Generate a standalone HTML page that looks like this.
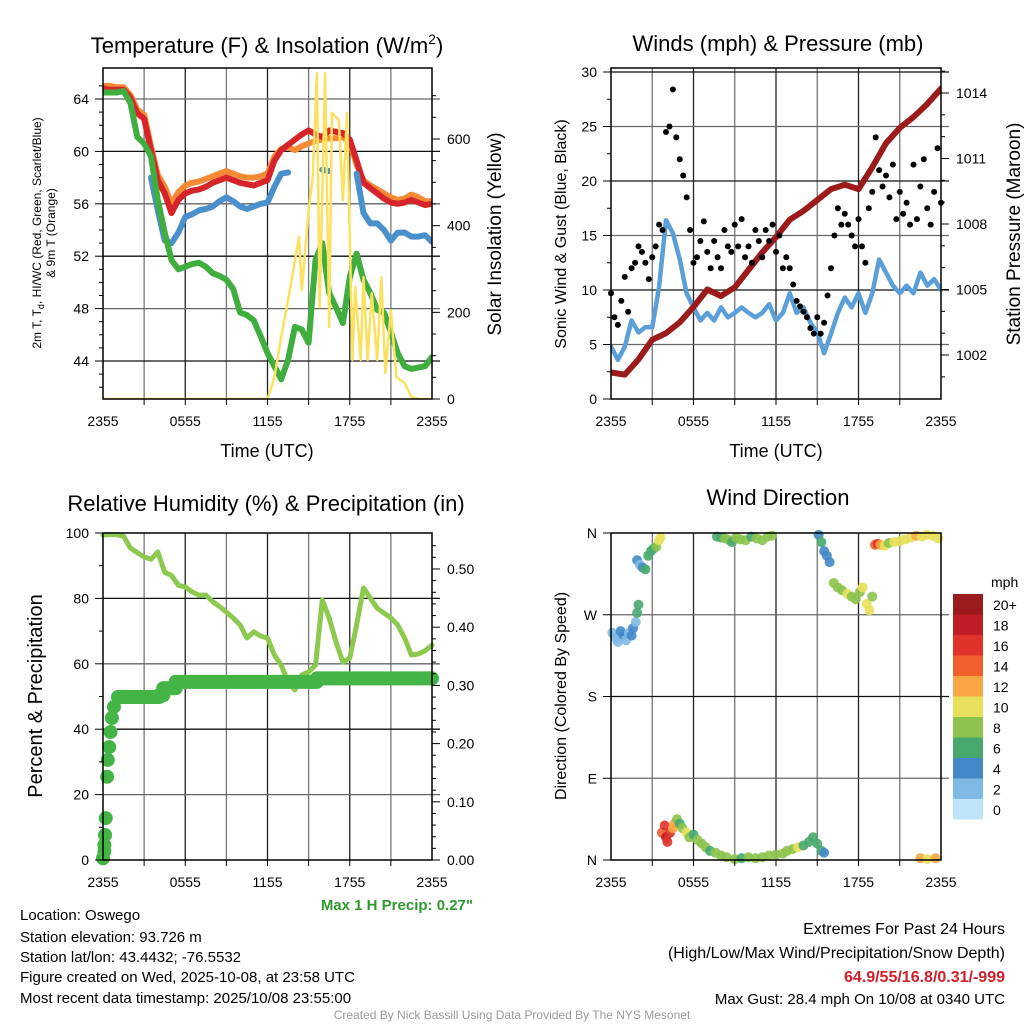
<!DOCTYPE html>
<html><head><meta charset="utf-8"><style>
html,body{margin:0;padding:0;background:#fff;}
svg{display:block;font-family:"Liberation Sans",Arial,sans-serif;}
</style></head><body>
<svg id="fig" width="1024" height="1024" viewBox="0 0 1024 1024">
<defs>
<clipPath id="c1"><rect x="103" y="68" width="329" height="331"/></clipPath>
<clipPath id="c2"><rect x="611" y="68" width="330" height="331"/></clipPath>
</defs>
<g id="grid"></g>
<g id="marks"></g>
<g id="axes"></g>
<text x="267" y="53" font-size="22" text-anchor="middle">Temperature (F) &amp; Insolation (W/m<tspan font-size="14" dy="-9">2</tspan><tspan dy="9">)</tspan></text>
<text x="778" y="51" font-size="22" text-anchor="middle">Winds (mph) &amp; Pressure (mb)</text>
<text x="266" y="511" font-size="22" text-anchor="middle">Relative Humidity (%) &amp; Precipitation (in)</text>
<text x="778" y="505" font-size="22" text-anchor="middle">Wind Direction</text>
<text x="267" y="457" font-size="18" text-anchor="middle">Time (UTC)</text>
<text x="776" y="457" font-size="18" text-anchor="middle">Time (UTC)</text>
<text transform="translate(41,233) rotate(-90)" font-size="12" text-anchor="middle">2m T, T<tspan font-size="9" dy="3">d</tspan><tspan dy="-3">, HI/WC (Red, Green, Scarlet/Blue)</tspan></text>
<text transform="translate(55,233) rotate(-90)" font-size="12" text-anchor="middle">&amp; 9m T (Orange)</text>
<text transform="translate(501,234) rotate(-90)" font-size="19" text-anchor="middle">Solar Insolation (Yellow)</text>
<text transform="translate(566,234) rotate(-90)" font-size="16" text-anchor="middle">Sonic Wind &amp; Gust (Blue, Black)</text>
<text transform="translate(1020,234) rotate(-90)" font-size="19" text-anchor="middle">Station Pressure (Maroon)</text>
<text transform="translate(42,696) rotate(-90)" font-size="20" text-anchor="middle">Percent &amp; Precipitation</text>
<text transform="translate(566,696) rotate(-90)" font-size="16" text-anchor="middle">Direction (Colored By Speed)</text>
<text x="473" y="910" font-size="15" font-weight="bold" fill="#2e9a2e" text-anchor="end">Max 1 H Precip: 0.27"</text>
<g font-size="15">
<text x="20" y="920">Location: Oswego</text>
<text x="20" y="942">Station elevation: 93.726 m</text>
<text x="20" y="962">Station lat/lon: 43.4432; -76.5532</text>
<text x="20" y="982">Figure created on Wed, 2025-10-08, at 23:58 UTC</text>
<text x="20" y="1003">Most recent data timestamp: 2025/10/08 23:55:00</text>
</g>
<g font-size="16" text-anchor="end">
<text x="1005" y="934">Extremes For Past 24 Hours</text>
<text x="1005" y="958">(High/Low/Max Wind/Precipitation/Snow Depth)</text>
<text x="1005" y="982" fill="#d0202a" font-weight="bold">64.9/55/16.8/0.31/-999</text>
<text x="1005" y="1004" font-size="15">Max Gust: 28.4 mph On 10/08 at 0340 UTC</text>
</g>
<text x="512" y="1019" font-size="12" fill="#999" text-anchor="middle">Created By Nick Bassill Using Data Provided By The NYS Mesonet</text>
<g id="cbar"></g>
</svg>
<script>
// ---------- data ----------
const tempRed = [64.8,64.7,64.7,64.7,64.1,62.9,62.5,60.1,57.8,56.8,55.3,56.3,56.8,57.0,57.1,57.3,57.6,57.8,58.0,57.8,57.6,57.5,57.4,57.6,57.8,59.3,60.1,60.5,60.9,61.3,61.6,61.3,61.1,61.6,61.5,61.4,60.9,59.3,57.6,57.2,56.8,56.4,56.1,56.0,56.1,56.3,56.1,55.9,56.0];
const tempOrange = [65.0,65.0,64.9,64.9,64.3,63.2,62.8,60.4,58.2,57.3,56.0,56.9,57.4,57.6,57.7,57.9,58.1,58.3,58.5,58.3,58.1,58.0,58.0,58.1,58.3,59.6,60.2,60.3,60.1,60.4,60.6,60.8,60.9,61.0,61.0,61.1,60.7,59.0,57.8,57.4,57.1,56.8,56.5,56.3,56.4,56.7,56.5,56.2,56.2];
const tempBlue = [null,null,null,null,null,null,null,58.0,55.5,53.2,53.0,53.8,55.0,55.2,55.5,55.6,55.8,56.2,56.5,56.2,55.8,55.6,55.8,56.0,56.1,57.3,58.3,58.4,null,null,null,null,58.6,58.5,null,null,null,58.3,55.3,54.5,54.5,54.0,53.2,53.8,53.8,53.5,53.5,53.6,53.1];
const tempGreen = [64.5,64.5,64.5,64.6,63.7,61.1,60.6,59.6,56.3,53.8,51.7,51.0,51.2,51.4,51.5,51.2,50.7,50.5,50.2,49.5,47.7,47.5,47.1,45.9,44.6,43.6,42.6,44.1,46.6,46.4,45.4,51.7,53.0,49.2,48.1,46.9,50.4,52.2,50.2,49.2,47.9,47.7,46.2,44.6,43.6,43.4,43.5,43.6,44.3];
const solarHours = [0,12,12.5,13,13.5,14,14.3,14.5,15,15.3,15.6,15.8,16.2,16.5,16.7,17.2,17.5,17.8,18.2,18.4,18.8,19,19.3,19.6,20,20.3,20.6,21,21.4,22,22.5,23,24];
const solarVals = [0,0,50,143,228,320,374,251,436,512,752,212,752,166,660,644,459,660,90,258,90,281,90,244,90,281,60,205,50,37,5,0,0];
const pressure = [1001.2,1001.1,1001.8,1002.7,1003.0,1003.5,1004.2,1005.0,1004.7,1005.1,1005.9,1006.7,1007.4,1008.2,1008.6,1009.1,1009.6,1009.8,1009.6,1010.6,1011.7,1012.4,1012.9,1013.5,1014.2];
const windSpeed = [4.8,3.6,4.8,7.2,6.1,6.6,6.6,10.3,16.4,15.2,12.8,9.7,8.4,7.2,7.9,7.2,8.4,7.5,7.9,8.4,7.9,7.5,7.9,8.7,7.2,7.9,9.7,7.9,8.4,7.0,6.1,4.2,6.0,7.9,9.3,8.4,9.7,7.9,9.7,12.8,11.6,10.4,9.7,10.4,9.7,11.6,10.4,11.0,10.0];
const windGust = [9.7,7.5,6.8,9.0, 11.2,8.0,12.0,12.5, 14.0,13.5,12.5,11.0, 13.0,14.0,16.0,15.5, 24.5,25.0,28.4,24.0, 22.0,20.5,18.5,15.5, 12.5,13.0,14.5,16.3, 13.5,12.0,14.5,13.0, 12.0,15.5,14.0,13.5, 16.0,14.0,16.5,13.0, 14.0,12.5,15.5,14.5, 13.0,15.5,14.5,16.0, 13.5,15.0,12.0,13.0, 12.0,10.5,9.0,8.5, 8.0,7.5,6.5,6.0, 7.5,6.0,7.0,9.5, 12.0,15.0,17.5,16.0, 17.0,16.0,15.0,14.0, 16.5,14.0,12.5,17.5, 19.0,24.0,21.0,19.5, 20.5,18.5,21.5,16.5, 19.0,17.0,18.0,16.0, 21.5,16.5,19.5,22.0, 17.5,16.0,19.0,23.0, 18.0];
const rhVals = [99.4,99.5,99.5,99.0,95.4,94,92.7,92,94.2,88,87,84,83.5,82,81,81,79,77.5,75.8,74,71.9,67.9,69.8,68.5,67.9,62.7,59.6,54.4,52,56.6,57.5,59.6,79.5,74,66.7,60.5,61.8,71.9,83.2,80.1,77,75.5,74,71.9,67.9,62.7,63,64,65.7];
const precipHours = [0,0.1,0.1,0.15,0.2,0.3,0.35,0.45,0.55,0.65,0.8,1.1,4.1,4.4,5.3,15.2,15.6,24];
const precipTotals = [0.003,0.015,0.026,0.043,0.072,0.143,0.172,0.194,0.22,0.244,0.263,0.28,0.283,0.295,0.306,0.306,0.312,0.312];
const dirHours = [0.1,0.3,0.5,0.7,0.9,1.1,1.3,1.5,1.6,1.8,1.9,2.0, 1.9,2.1,2.3,2.5,2.7,2.9,3.1,3.3,3.5,3.6, 3.7,3.9,4.0,4.1,4.3,4.5,4.6,4.8,5.0,5.2,5.5,5.7,6.0,6.3,6.6,6.9,7.2,7.6,8.0,8.4, 7.7,8.0,8.3,8.6,8.8,9.1,9.4,9.8,10.2,10.6,11.0,11.4,11.7, 9.0,9.5,10,10.5,11,11.5,12,12.5,12.8,13.2,13.6,14,14.4,14.7,15,15.3,15.5, 15.1,15.3,15.5,15.7,15.9, 16.2,16.5,16.8,17.2,17.5,17.8,18.1,18.3,18.6,18.8,19.0, 19.2,19.4,19.6,19.9,20.2,20.6,21,21.4,21.8,22.2,22.6,23,23.4,23.8, 22.5,23,23.6];
const dirDeg = [250,245,240,252,248,242,250,247,255,262,272,281, 330,325,322,320,335,340,343,345,352,355, 30,38,25,20,30,35,40,45,40,35,30,25,28,22,18,14,10,8,5,3, 356,355,354,352,350,355,353,352,356,354,352,356,357, 1,2,3,2,3,5,6,7,10,12,14,16,20,25,18,10,8, 358,350,340,335,328, 305,300,297,293,290,287,295,300,282,275,290, 347,348,347,346,349,350,351,353,355,357,356,358,357,354, 2,1,2];
const dirSpeed = [3,3,3,4,5,3,3,5,4,3,6,7, 5,3,5,6,6,7,7,8,10,10, 14,16,18,16,16,12,12,8,6,8,10,8,6,8,8,8,6,8,8,8, 6,6,8,8,6,8,8,8,6,8,8,8,8, 8,6,8,8,8,8,8,8,8,8,10,6,6,6,6,6,4, 4,6,4,4,4, 8,8,8,10,8,8,8,10,10,10,8, 14,16,12,10,8,10,10,10,10,12,10,10,10,10, 12,10,12];
const cbarLabels = ["20+","18","16","14","12","10","8","6","4","2","0"];
const cbarColors = ["#9a1a1d","#bf1e26","#df3329","#f0602c","#f8a645","#e8e05a","#8cc34c","#47a86e","#4388c8","#80b9e4","#bfe3f7"];
const xTickLabels = ["2355","0555","1155","1755","2355"];

// ---------- helpers ----------
const NS="http://www.w3.org/2000/svg";
const G=document.getElementById('grid'),M=document.getElementById('marks'),A=document.getElementById('axes');
function el(tag,attrs,parent){const e=document.createElementNS(NS,tag);for(const k in attrs)e.setAttribute(k,attrs[k]);parent.appendChild(e);return e;}
function lin(d0,d1,r0,r1){return v=>r0+(v-d0)*(r1-r0)/(d1-d0);}
function speedColor(s){let i=Math.floor(s/2);if(i>10)i=10;return cbarColors[10-i];}

function frame(x0,x1,y0,y1,xs,prefix,yTicks,yScale,yFmt,yMinor,rTicks,rScale,rFmt,rMinor){
  for(let h=3;h<24;h+=3){const x=xs(h);
    const l=el('line',{x1:x,x2:x,y1:y0,y2:y1,stroke:h%6? '#777':'#222','stroke-width':1.3},G);
    
    const t=el('line',{x1:x,x2:x,y1:y1,y2:y1+6,stroke:'#000'},A);
    }
  xTickLabels.forEach((lab,i)=>{const x=xs(i*6);
    const t=el('text',{x:x,y:y1+27,'font-size':14,'text-anchor':'middle'},A);t.textContent=lab;
    });
  yTicks.forEach((v,i)=>{const y=yScale(v);
    if(y>y0+1&&y<y1-1){const l=el('line',{x1:x0,x2:x1+8,y1:y,y2:y,stroke:i%2?'#666':'#111','stroke-width':1.3},G);
    }
    const tk=el('line',{x1:x0-8,x2:x0,y1:y,y2:y,stroke:'#000'},A);
    
    const t=el('text',{x:x0-14,y:y+5,'font-size':14,'text-anchor':'end'},A);t.textContent=yFmt(v);
    });
  yMinor.forEach(v=>{const y=yScale(v);const tk=el('line',{x1:x0-4,x2:x0,y1:y,y2:y,stroke:'#000'},A);
    });
  if(rTicks){rTicks.forEach(v=>{const y=rScale(v);
    const tk=el('line',{x1:x1,x2:x1+8,y1:y,y2:y,stroke:'#000'},A);
    
    const t=el('text',{x:x1+15,y:y+5,'font-size':14},A);t.textContent=rFmt(v);
    });
    rMinor.forEach(v=>{const y=rScale(v);const tk=el('line',{x1:x1,x2:x1+4,y1:y,y2:y,stroke:'#000'},A);
    });}
  const b=el('rect',{x:x0,y:y0,width:x1-x0,height:y1-y0,fill:'none',stroke:'#000','stroke-width':1.5},A);
  
}
function path(xsArr,ysArr,xs,ys,color,w,name,clip){
  let d='',pen=false;
  for(let i=0;i<xsArr.length;i++){const v=ysArr[i];if(v===null||v===undefined){pen=false;continue;}
    d+=(pen?'L':'M')+xs(xsArr[i]).toFixed(1)+','+ys(v).toFixed(1);pen=true;}
  const p=el('path',{d:d,fill:'none',stroke:color,'stroke-width':w,'stroke-linejoin':'round','stroke-linecap':'round'},M);
  if(clip)p.setAttribute('clip-path','url(#'+clip+')');
  
  
  return p;
}
const half=tempRed.map((_,i)=>i*0.5);

// ---------- panel 1: temperature ----------
const x1s=lin(0,24,103,432), t1=lin(64,44,99,361), s1=lin(0,600,399,139);
frame(103,432,68,399,x1s,'temp',[44,48,52,56,60,64],t1,v=>v,[42,43,45,46,47,49,50,51,53,54,55,57,58,59,61,62,63,65],
  [0,200,400,600],s1,v=>v,[50,100,150,250,300,350,450,500,550,650,700]);
path(half,tempOrange,x1s,t1,'#f58a35',6,'temp-9m-orange-line','c1');
path(half,tempRed,x1s,t1,'#d6252a',6,'temp-2m-red-line','c1');
path(half,tempBlue,x1s,t1,'#4a90cc',6,'windchill-blue-line','c1');
path(half,tempGreen,x1s,t1,'#3fae3f',6,'dewpoint-green-line','c1');
path(solarHours,solarVals,x1s,s1,'#fbe15e',2.5,'solar-yellow-line','c1');

// ---------- panel 2: winds ----------
const x2s=lin(0,24,611,941), w2=lin(0,30,399,72), p2=lin(1002,1014,355,93);
frame(611,941,68,399,x2s,'wind',[0,5,10,15,20,25,30],w2,v=>v,[2.5,7.5,12.5,17.5,22.5,27.5],
  [1002,1005,1008,1011,1014],p2,v=>v,[1001,1003,1004,1006,1007,1009,1010,1012,1013,1015]);
path(half,windSpeed,x2s,w2,'#5a9fd8',4.5,'sonic-wind-blue-line','c2');
path(pressure.map((_,i)=>i),pressure,x2s,p2,'#9b1b1b',6,'pressure-maroon-line','c2');
windGust.forEach((g,i)=>{const c=el('circle',{cx:x2s(i*0.25),cy:w2(g),r:3,fill:'#000'},M);
  
  });

// ---------- panel 3: RH & precip ----------
const x3s=lin(0,24,103,432), r3=lin(0,100,860,533), q3=lin(0,0.5,860,569);
frame(103,432,533,860,x3s,'rh',[0,20,40,60,80,100],r3,v=>v,[10,30,50,70,90],
  [0,0.1,0.2,0.3,0.4,0.5],q3,v=>v.toFixed(2),[0.02,0.04,0.06,0.08,0.12,0.14,0.16,0.18,0.22,0.24,0.26,0.28,0.32,0.34,0.36,0.38,0.42,0.44,0.46,0.48,0.52,0.54]);
path(half,rhVals,x3s,r3,'#8dc94f',5,'rh-line');
{const start=11;let d='';
 for(let i=start;i<precipHours.length;i++){const x=x3s(precipHours[i]).toFixed(1);
   if(i===start)d+='M'+x+','+q3(precipTotals[i]).toFixed(1);
   else d+='L'+x+','+q3(precipTotals[i-1]).toFixed(1)+'L'+x+','+q3(precipTotals[i]).toFixed(1);}
 const p=el('path',{d:d,fill:'none',stroke:'#45b447','stroke-width':14,'stroke-linecap':'round','stroke-linejoin':'round'},M);
 
 }
precipHours.forEach((h,i)=>{const c=el('circle',{cx:x3s(h),cy:q3(precipTotals[i]),r:7,fill:'#45b447'},M);
  
  });

// ---------- panel 4: wind direction ----------
const x4s=lin(0,24,611,941), d4=lin(0,360,860,533);
frame(611,941,533,860,x4s,'dir',[0,90,180,270,360],d4,v=>['N','E','S','W','N'][v/90],[],null);
dirHours.forEach((h,i)=>{const c=el('circle',{cx:x4s(h),cy:d4(dirDeg[i]),r:5,fill:speedColor(dirSpeed[i]),'fill-opacity':0.9},M);
  
  });

// ---------- colorbar ----------
const CB=document.getElementById('cbar');
{const t=el('text',{x:991,y:587,'font-size':14},CB);t.textContent='mph';
 }
cbarLabels.forEach((lab,i)=>{const y=594+i*20.5;
  const r=el('rect',{x:953,y:y,width:30,height:20.5,fill:cbarColors[i]},CB);
  
  
  const t=el('text',{x:993,y:y+16,'font-size':14},CB);t.textContent=lab;
  
  });
</script>
</body></html>
